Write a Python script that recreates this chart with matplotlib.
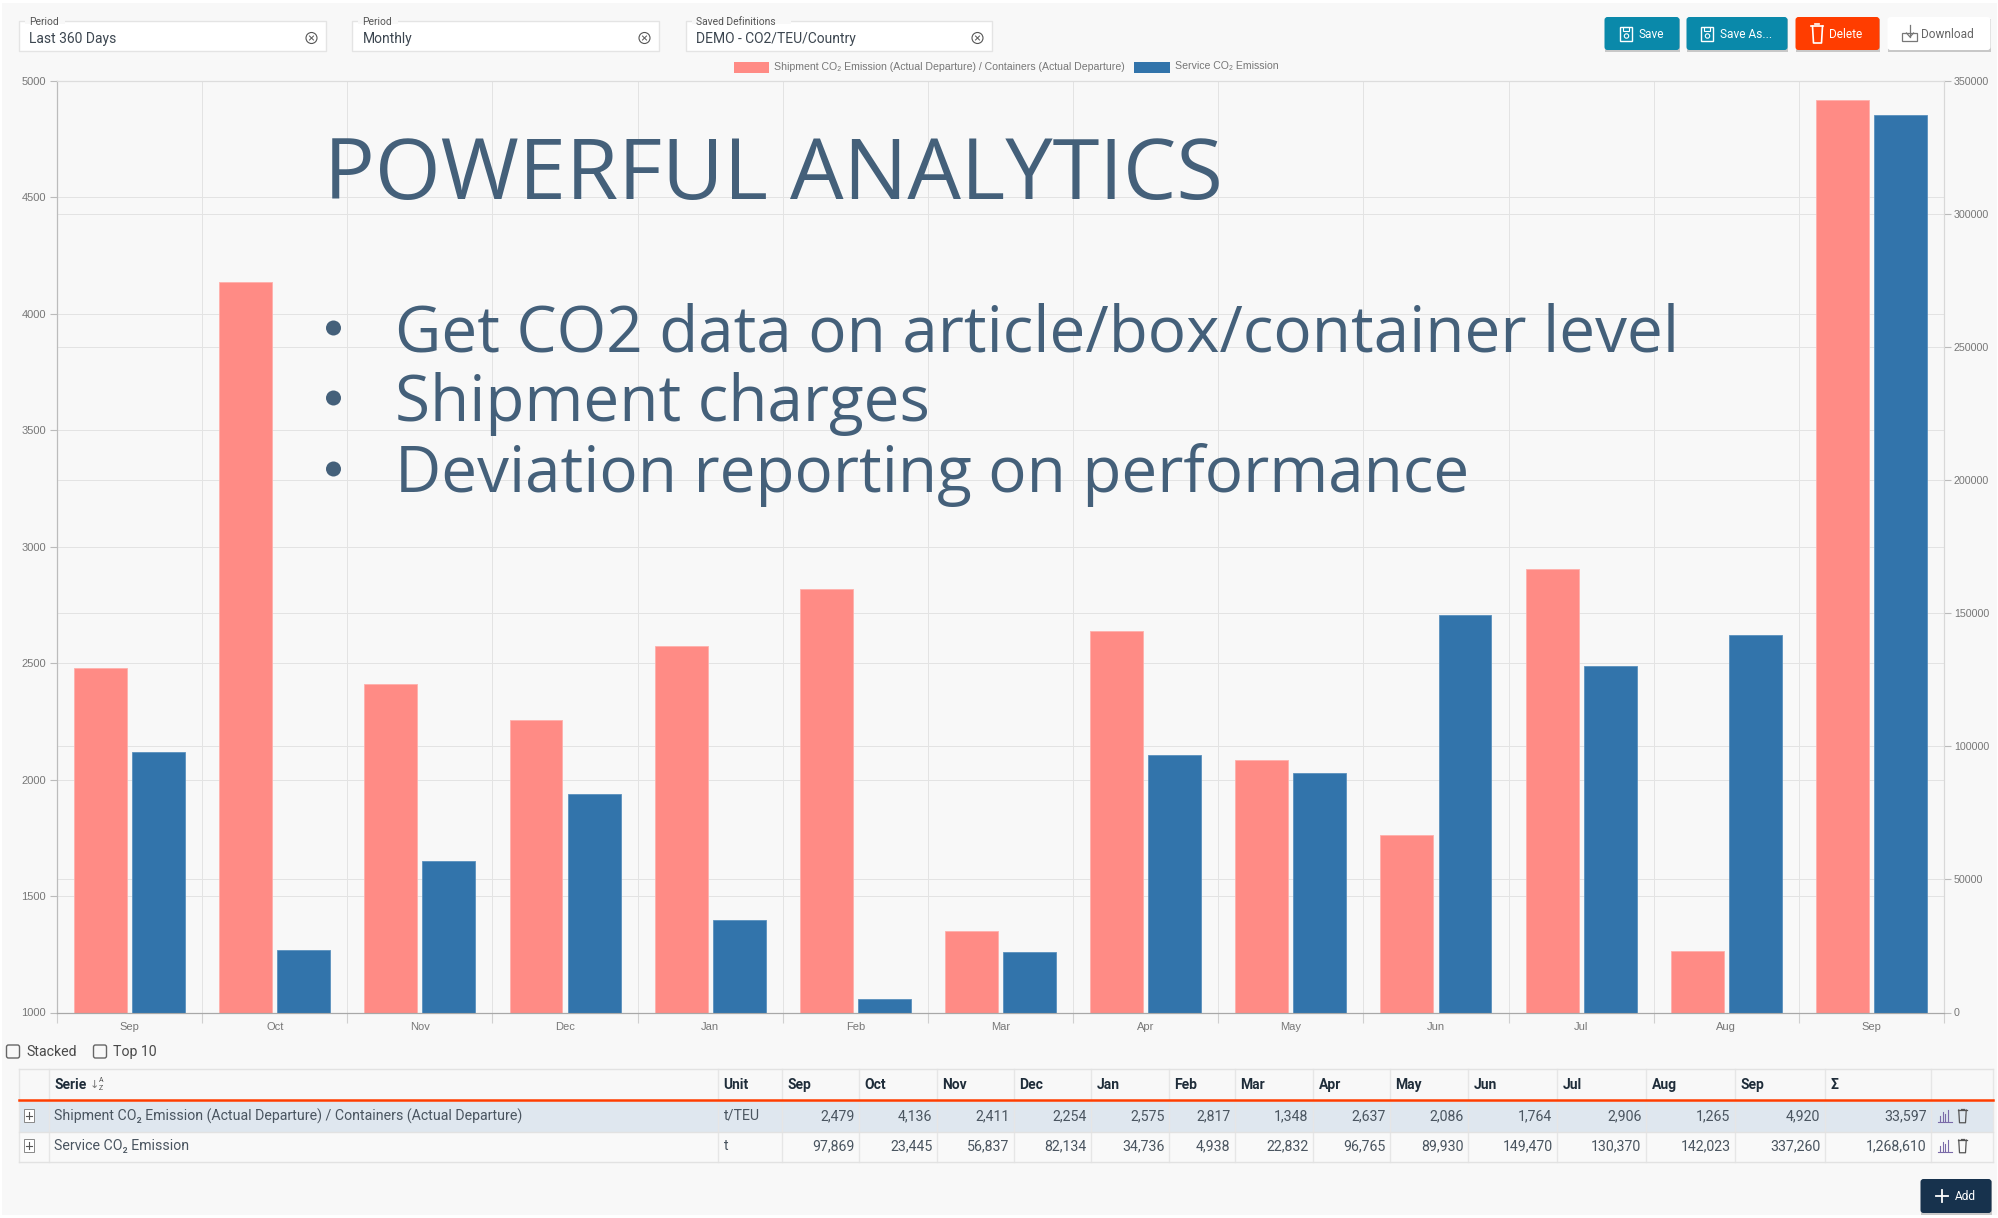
import matplotlib
matplotlib.use("Agg")
from matplotlib import pyplot as plt
from matplotlib.patches import Rectangle, FancyBboxPatch, Circle
import numpy as np

#Chart values
months = ["Sep", "Oct", "Nov", "Dec", "Jan", "Feb", "Mar", "Apr", "May", "Jun", "Jul", "Aug", "Sep"]
teu_values = [2479, 4136, 2411, 2254, 2575, 2817, 1348, 2637, 2086, 1764, 2906, 1265, 4920]
service_values = [97869, 23445, 56837, 82134, 34736, 4938, 22832, 96765, 89930, 149470, 130370, 142023, 337260]
teu_total = 33597
service_total = 1268610
left_ticks = [1000, 1500, 2000, 2500, 3000, 3500, 4000, 4500, 5000]
right_ticks = [0, 50000, 100000, 150000, 200000, 250000, 300000, 350000]
teu_name = "Shipment CO\u2082 Emission (Actual Departure) / Containers (Actual Departure)"
service_name = "Service CO\u2082 Emission"
bullets = ["Get CO2 data on article/box/container level", "Shipment charges", "Deviation reporting on performance"]

W, H = 1999, 1218
PINK = "#ff8b85"
BLUE = "#3274ab"
GRID = "#e3e3e3"
TICK = "#777777"
INK = "#44607a"
TABLE_INK = "#4a5560"
TEAL = "#0a89aa"
ORANGE = "#ff3d00"
NAVY = "#17324d"
UI_FONT = ["Roboto", "DejaVu Sans"]
CHART_FONT = ["Liberation Sans", "DejaVu Sans"]

fig = plt.figure(figsize=(W / 100, H / 100), dpi=100, facecolor="white")

#Overlay in pixel coordinates for the page furniture
page = fig.add_axes([0, 0, 1, 1], zorder=0)
page.set_xlim(0, W)
page.set_ylim(H, 0)
page.axis("off")
page.add_patch(Rectangle((2, 3), W - 4, H - 6, fc="#f8f8f8", ec="none"))

top = 1 - 81 / H
bottom = 1 - 1012.5 / H
rect = [57 / W, bottom, (1944 - 57) / W, top - bottom]


def layer(zorder):
    a = fig.add_axes(rect, zorder=zorder)
    a.patch.set_visible(False)
    a.set_xlim(-0.5, len(months) - 0.5)
    return a


#Grid layers sit behind both bar layers
grid_left = layer(1)
grid_left.set_ylim(left_ticks[0], left_ticks[-1])
grid_left.set_yticks(left_ticks)
grid_left.set_xticks(np.arange(len(months) + 1) - 0.5)
grid_left.grid(True, color=GRID, linewidth=0.7)
grid_left.tick_params(length=0, labelleft=False, labelbottom=False)
grid_right = layer(1)
grid_right.set_ylim(right_ticks[0], right_ticks[-1])
grid_right.set_yticks(right_ticks)
grid_right.set_xticks([])
grid_right.grid(True, axis="y", color=GRID, linewidth=0.7)
grid_right.tick_params(length=0, labelleft=False)
for a in (grid_left, grid_right):
    for s in a.spines.values():
        s.set_visible(False)

x = np.arange(len(months))
ax = layer(2)
ax.bar(x - 0.2, teu_values, width=0.365, color=PINK, edgecolor="#ffb0ab", linewidth=0.6)
ax.set_ylim(left_ticks[0], left_ticks[-1])
ax.set_yticks(left_ticks)
ax.set_xticks(np.arange(len(months) + 1) - 0.5)
ax.set_xticklabels([])
ax.set_xticks(x, months, minor=True, fontsize=8, color=TICK, family=CHART_FONT)
ax.tick_params(axis="x", which="major", length=7, color="#d0d0d0", width=0.8)
ax.tick_params(axis="x", which="minor", length=0, pad=7)
ax.tick_params(axis="y", length=5, color="#bbbbbb", labelsize=8, labelcolor=TICK, pad=3)
for label_obj in ax.get_yticklabels():
    label_obj.set_family(CHART_FONT)

ax_r = layer(3)
ax_r.bar(x + 0.2, service_values, width=0.365, color=BLUE, edgecolor="#5a90bd", linewidth=0.6)
ax_r.set_ylim(right_ticks[0], right_ticks[-1])
ax_r.yaxis.tick_right()
ax_r.set_yticks(right_ticks)
ax_r.set_xticks([])
ax_r.tick_params(axis="y", length=5, color="#bbbbbb", labelsize=7.7, labelcolor=TICK, pad=2)
for label_obj in ax_r.get_yticklabels():
    label_obj.set_family(CHART_FONT)

for a in (ax, ax_r):
    a.spines["top"].set_color("#dddddd")
    a.spines["left"].set_color("#bcbcbc")
    a.spines["right"].set_color("#d8d8d8")
    a.spines["bottom"].set_color("#a8a8a8")

#Everything in front of the chart
ui = fig.add_axes([0, 0, 1, 1], zorder=5)
ui.set_xlim(0.5, W + 0.5)
ui.set_ylim(H, 0)
ui.axis("off")


def label(px, py, s, size=10, color=TABLE_INK, ha="left", weight="normal", family=None):
    ui.text(px, py, s, fontsize=size, color=color, ha=ha, va="center", fontweight=weight,
            family=family or UI_FONT)


def button(x0, x1, y0, y1, face, radius=3, edge="none"):
    ui.add_patch(Rectangle((x0 + 0.5, y0 + 1.5), x1 - x0, y1 - y0, fc="#c8c8c8", ec="none"))
    ui.add_patch(FancyBboxPatch((x0 + radius, y0 + radius), x1 - x0 - 2 * radius, y1 - y0 - 2 * radius,
                                boxstyle=f"round,pad={radius}", fc=face, ec=edge, lw=0.8))


def floppy(px, py, color):
    ui.add_patch(Rectangle((px - 6, py - 7), 12, 14, fc="none", ec=color, lw=1))
    ui.add_patch(Rectangle((px - 3, py - 7), 6, 4, fc="none", ec=color, lw=0.8))
    ui.add_patch(Circle((px, py + 2), 2.2, fc="none", ec=color, lw=0.8))


def trash(px, py, color, lw=1.0, s=1.0):
    ui.plot([px - 6 * s, px + 6 * s], [py - 8 * s, py - 8 * s], color=color, lw=lw)
    ui.plot([px - 5 * s, px - 4 * s, px + 4 * s, px + 5 * s],
            [py - 8 * s, py + 9 * s, py + 9 * s, py - 8 * s], color=color, lw=lw)
    ui.plot([px - 2 * s, px + 2 * s], [py - 10 * s, py - 10 * s], color=color, lw=lw)


#Filter boxes
for x0, x1, title, value in [(20, 327, "Period", "Last 360 Days"),
                             (353, 660, "Period", "Monthly"),
                             (687, 993, "Saved Definitions", "DEMO - CO2/TEU/Country")]:
    ui.add_patch(Rectangle((x0, 21), x1 - x0, 30, fc="white", ec="#e4e4e4", lw=1))
    ui.add_patch(Rectangle((x0 + 6, 18), len(title) * 5.3 + 8, 6, fc="#f8f8f8", ec="none"))
    label(x0 + 10, 22, title, size=7.4, color="#555555")
    label(x0 + 10, 39.5, value, size=10, color="#3c4650")
    ui.add_patch(Circle((x1 - 15, 38), 5.5, fc="none", ec="#555555", lw=0.8))
    ui.plot([x1 - 17, x1 - 13], [36, 40], color="#555555", lw=0.7)
    ui.plot([x1 - 17, x1 - 13], [40, 36], color="#555555", lw=0.7)

#Buttons
button(1605, 1680, 17, 50, TEAL)
floppy(1627, 34, "white")
label(1639, 34, "Save", size=8.6, color="white")
button(1687, 1788, 17, 50, TEAL)
floppy(1708, 34, "white")
label(1721, 34, "Save As...", size=8.6, color="white")
button(1796, 1880, 17, 50, ORANGE)
trash(1818, 34, "white", lw=1.2)
label(1830, 34, "Delete", size=8.6, color="white")
button(1888, 1991, 17, 50, "white")
ui.add_patch(Rectangle((1903, 33), 15, 8, fc="none", ec="#777777", lw=0.9))
ui.plot([1910.5, 1910.5], [25, 37], color="#777777", lw=0.9)
ui.plot([1907, 1910.5, 1914], [33, 37, 33], color="#777777", lw=0.9)
label(1922, 34, "Download", size=8.6, color="#666666")
button(1921, 1992, 1179, 1213, NAVY)
ui.plot([1943, 1943], [1190, 1202], color="white", lw=1.3)
ui.plot([1937, 1949], [1196, 1196], color="white", lw=1.3)
label(1955, 1197, "Add", size=8.6, color="white")

#Legend
ui.add_patch(Rectangle((735, 62), 35, 11, fc=PINK, ec="none"))
label(775, 66.5, teu_name, size=7.6, color="#777777", family=CHART_FONT)
ui.add_patch(Rectangle((1135, 62), 36, 11, fc=BLUE, ec="none"))
label(1176, 66.5, service_name, size=7.6, color="#777777", family=CHART_FONT)

#Headline text
label(325, 177, "POWERFUL ANALYTICS", size=61, color=INK, family=["Open Sans", "DejaVu Sans"])
for py, s in zip([328, 398, 469], bullets):
    ui.add_patch(Circle((334, py), 7.5, fc=INK, ec="none"))
    label(396, py + 6, s, size=45.9, color=INK, family=["Open Sans", "DejaVu Sans"])

#Checkboxes
for bx, tx, s in [(7, 27, "Stacked"), (94, 114, "Top 10")]:
    ui.add_patch(FancyBboxPatch((bx + 2, 1047), 9, 9, boxstyle="round,pad=2", fc="none", ec="#666666", lw=1))
    label(tx, 1052, s, size=10.2, color="#4a4a4a")

#Table
col_edges = [20, 50, 719, 783, 860, 938, 1015, 1092, 1170, 1236, 1314, 1391, 1469, 1558, 1647, 1736, 1826, 1932, 1994]
row_edges = [1069, 1100, 1132, 1162]
ui.add_patch(Rectangle((20, 1100), 1974, 32, fc="#dfe7ef", ec="none"))
ui.add_patch(Rectangle((20, 1132), 1974, 30, fc="#f9f9f9", ec="none"))
for cx in col_edges:
    ui.plot([cx, cx], [row_edges[0], row_edges[-1]], color="#e6e6e6", lw=1)
for ry in [row_edges[0], row_edges[2], row_edges[3]]:
    ui.plot([20, 1994], [ry, ry], color="#e2e2e2", lw=1)
ui.plot([20, 1994], [1100, 1100], color=ORANGE, lw=1.8)

label(55, 1085, "Serie", size=10, color="#1f2d3a", weight="bold")
label(90, 1085, "\u2193", size=8, color="#777777", family=["DejaVu Sans"])
label(99, 1081, "A", size=5, color="#555555")
label(99, 1089, "Z", size=5, color="#555555")
label(724, 1085, "Unit", size=10, color="#1f2d3a", weight="bold")
for i, m in enumerate(months):
    label(col_edges[3 + i] + 5, 1085, m, size=10, color="#1f2d3a", weight="bold")
label(col_edges[16] + 5, 1085, "\u03a3", size=10, color="#1f2d3a", weight="bold")

rows = [(1116, teu_name, "t/TEU", teu_values, teu_total),
        (1146, service_name, "t", service_values, service_total)]
for py, name, unit, values, total in rows:
    ui.add_patch(Rectangle((25, py - 7), 10, 13, fc="white", ec="#888888", lw=0.7))
    ui.plot([27, 33], [py - 0.5, py - 0.5], color="#555555", lw=0.8)
    ui.plot([30, 30], [py - 4, py + 3], color="#555555", lw=0.8)
    label(55, py, name, size=10.2, color=TABLE_INK)
    label(724, py, unit, size=10.2, color=TABLE_INK)
    for i, v in enumerate(values):
        label(col_edges[4 + i] - 5, py, f"{v:,}", size=10.2, color=TABLE_INK, ha="right")
    label(col_edges[17] - 5, py, f"{total:,}", size=10.2, color=TABLE_INK, ha="right")
    for j, hgt in enumerate([5, 9, 7, 11]):
        ui.plot([1941 + j * 2.5] * 2, [py + 5, py + 5 - hgt], color="#7a6aa8", lw=0.8)
    ui.plot([1939, 1953], [py + 6, py + 6], color="#7a6aa8", lw=0.8)
    trash(1963, py, "#555555", lw=0.9, s=0.75)

fig.savefig("out.png", dpi=100, facecolor=fig.get_facecolor())
